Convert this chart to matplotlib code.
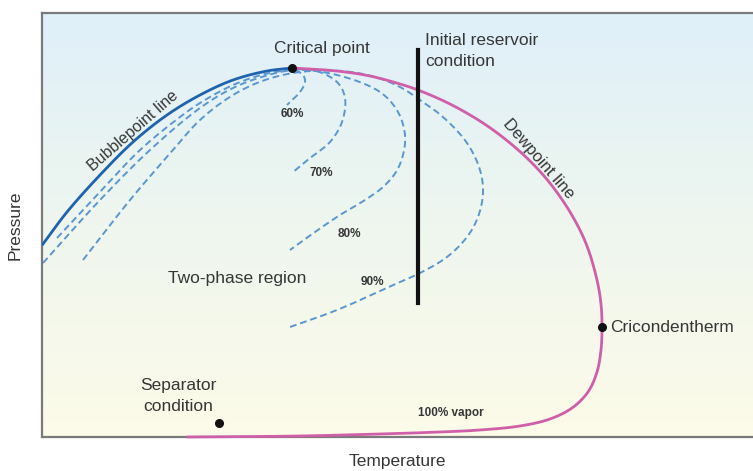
import numpy as np
import matplotlib
matplotlib.use("Agg")
import matplotlib.pyplot as plt
from matplotlib.colors import LinearSegmentedColormap

# Phase envelope, arbitrary temperature / pressure units
bubble_t = [1, 25, 58, 91, 125, 158, 191, 225, 250]
bubble_p = [193, 225, 262, 295, 322, 342, 357, 366, 369]

dew_t = [250, 295, 328, 358, 376, 408, 441, 468, 491, 511, 531, 545, 555, 559, 560,
         559, 555, 546, 530, 508, 478, 438, 398, 338, 258, 146]
dew_p = [369, 366, 361, 353, 347, 333, 314, 294, 273, 250, 220, 191, 157, 133, 110,
         87, 65, 45, 29, 18, 11, 7, 5, 3, 1, 0]

# quality lines (liquid %)
q60_t = [253, 261, 263, 258, 248, 245]
q60_p = [367, 362, 355, 345, 335, 332]
q70_t = [15, 58, 98, 138, 158, 191, 223, 250, 271, 295, 303, 300, 288, 268, 250]
q70_p = [199, 245, 287, 320, 334, 352, 363, 367, 367, 355, 339, 315, 295, 279, 264]
q80_t = [1, 58, 108, 158, 191, 223, 253, 295, 338, 356, 363, 361, 354, 341, 323,
         298, 273, 248]
q80_p = [174, 237, 287, 329, 349, 361, 367, 362, 345, 325, 302, 282, 265, 250, 237,
         222, 205, 187]
q90_t = [41, 88, 131, 158, 191, 223, 258, 300, 333, 358, 378, 401, 425, 438, 441,
         436, 425, 405, 378, 358, 295, 248]
q90_p = [177, 237, 287, 317, 342, 357, 365, 366, 360, 350, 337, 320, 294, 267, 244,
         220, 200, 180, 164, 155, 127, 110]
quality_labels = ['60%', '70%', '80%', '90%']
quality_label_pos = [(250, 323), (279, 264), (307, 203), (330, 155)]

critical = (250, 369)
cricondentherm = (560, 110)
separator = (177, 14)
reservoir_t = 376
reservoir_p = [134, 387]

FONT = ['Liberation Sans Narrow', 'Liberation Sans', 'DejaVu Sans']
TXT = '#363636'


def smooth(xs, ys, n=16):
    # centripetal catmull-rom through the read points, only for drawing
    p = np.column_stack([xs, ys]).astype(float)
    p = np.vstack([2 * p[0] - p[1], p, 2 * p[-1] - p[-2]])
    out = []
    for i in range(1, len(p) - 2):
        p0, p1, p2, p3 = p[i - 1], p[i], p[i + 1], p[i + 2]
        t0 = 0.0
        t1 = t0 + np.linalg.norm(p1 - p0) ** 0.5
        t2 = t1 + np.linalg.norm(p2 - p1) ** 0.5
        t3 = t2 + np.linalg.norm(p3 - p2) ** 0.5
        for t in np.linspace(t1, t2, n, endpoint=False):
            a1 = (t1 - t) / (t1 - t0) * p0 + (t - t0) / (t1 - t0) * p1
            a2 = (t2 - t) / (t2 - t1) * p1 + (t - t1) / (t2 - t1) * p2
            a3 = (t3 - t) / (t3 - t2) * p2 + (t - t2) / (t3 - t2) * p3
            b1 = (t2 - t) / (t2 - t0) * a1 + (t - t0) / (t2 - t0) * a2
            b2 = (t3 - t) / (t3 - t1) * a2 + (t - t1) / (t3 - t1) * a3
            out.append((t2 - t) / (t2 - t1) * b1 + (t - t1) / (t2 - t1) * b2)
    out.append(p[-2])
    out = np.array(out)
    return out[:, 0], out[:, 1]


fig = plt.figure(figsize=(7.53, 4.71), dpi=100)
ax = fig.add_axes([42/753, 34/471, 711/753, 424/471])
ax.set_xlim(0, 711)
ax.set_ylim(0, 424)

# background gradient, blue on top to pale yellow at the bottom
cmap = LinearSegmentedColormap.from_list('bg', ['#fdfbe9', '#eef6ee', '#dff0fa'])
ax.imshow(np.linspace(0, 1, 256).reshape(-1, 1), cmap=cmap, aspect='auto',
          extent=(0, 711, 0, 424), origin='lower', zorder=0)

dash = dict(color='#5a96cf', lw=1.4, ls=(0, (3.5, 2)), zorder=2)
for qt, qp in [(q60_t, q60_p), (q70_t, q70_p), (q80_t, q80_p), (q90_t, q90_p)]:
    ax.plot(*smooth(qt, qp), **dash)

ax.plot(*smooth(bubble_t, bubble_p), color='#1f63ae', lw=2, zorder=3)
ax.plot(*smooth(dew_t, dew_p), color='#cf5fa8', lw=2, zorder=3, clip_on=False)
ax.plot([reservoir_t, reservoir_t], reservoir_p, color='#111111', lw=3, zorder=4)

for pt in [critical, cricondentherm, separator]:
    ax.plot(*pt, 'o', color='#111111', ms=5.5, zorder=5)

for lab, (x, y) in zip(quality_labels, quality_label_pos):
    ax.text(x, y, lab, family=FONT, fontsize=8.5, fontweight='bold', color=TXT,
            ha='center', va='center')

ax.text(280, 389, 'Critical point', family=FONT, fontsize=12.5, color=TXT,
        ha='center', va='center')
ax.text(383, 386, 'Initial reservoir\ncondition', family=FONT, fontsize=12.5,
        color=TXT, ha='left', va='center', linespacing=1.45)
ax.text(91, 306, 'Bubblepoint line', family=FONT, fontsize=11.5, color=TXT,
        ha='center', va='center', rotation=41)
ax.text(497, 278, 'Dewpoint line', family=FONT, fontsize=12, color=TXT,
        ha='center', va='center', rotation=-49)
ax.text(195, 159, 'Two-phase region', family=FONT, fontsize=12.5, color=TXT,
        ha='center', va='center')
ax.text(136, 41, 'Separator\ncondition', family=FONT, fontsize=12.5, color=TXT,
        ha='center', va='center', linespacing=1.45)
ax.text(568, 110, 'Cricondentherm', family=FONT, fontsize=12.5, color=TXT,
        ha='left', va='center')
ax.text(409, 24, '100% vapor', family=FONT, fontsize=8.5, fontweight='bold',
        color=TXT, ha='center', va='center')

ax.set_xlabel('Temperature', family=FONT, fontsize=12.5, color=TXT, labelpad=12)
ax.set_ylabel('Pressure', family=FONT, fontsize=12.5, color=TXT, labelpad=14)

ax.set_xticks([])
ax.set_yticks([])
for s in ['top', 'left', 'bottom']:
    ax.spines[s].set_color('#7a7a7a')
    ax.spines[s].set_linewidth(1.6)
ax.spines['right'].set_visible(False)

fig.savefig('out.png', dpi=100)
